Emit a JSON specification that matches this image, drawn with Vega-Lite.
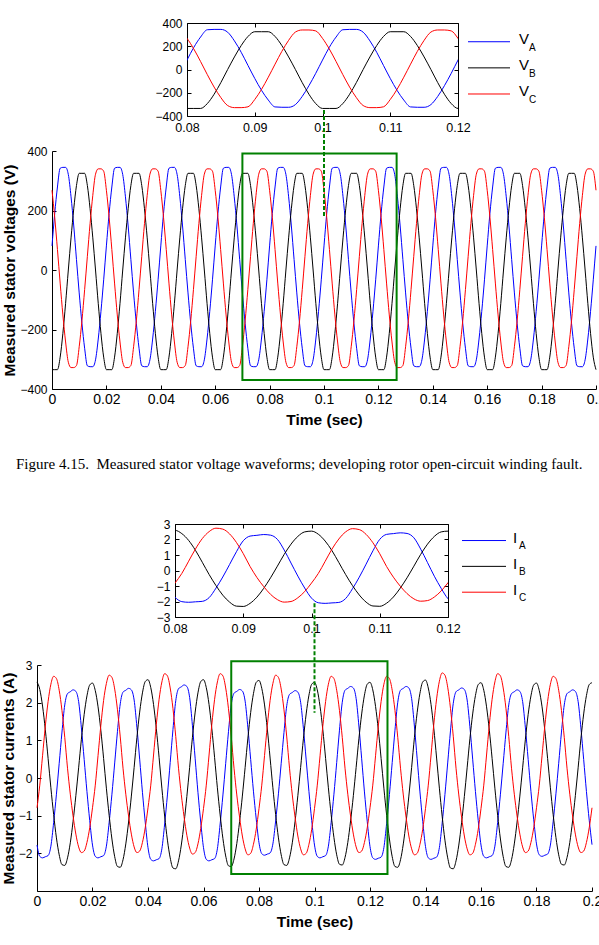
{
  "$schema": "https://vega.github.io/schema/vega-lite/v6.json",
  "background": "white",
  "padding": {"left": 1, "top": 16, "right": 0, "bottom": 0},
  "bounds": "flush",
  "spacing": 0,
  "config": {
    "view": {"stroke": null},
    "font": "Liberation Sans",
    "axis": {
      "grid": false,
      "domainColor": "#000",
      "domainWidth": 1,
      "tickColor": "#000",
      "tickWidth": 1,
      "tickSize": -4,
      "labelColor": "#000",
      "labelFont": "Liberation Sans",
      "labelFontSize": 12,
      "labelFlush": false,
      "labelOverlap": false,
      "labelBound": false,
      "titleFont": "Liberation Sans",
      "titleFontWeight": "bold",
      "titleColor": "#000",
      "titleFontSize": 15.5,
      "titlePadding": 2
    },
    "axisX": {"labelPadding": 7},
    "axisY": {"labelPadding": 9},
    "line": {"strokeWidth": 1, "interpolate": "monotone"}
  },
  "datasets": {
    "wave": [
      {"t":0,"va":81,"vb":-335,"vc":268,"ia":-1.78,"ib":2.55,"ic":-0.79},
      {"t":0.001,"va":190,"vb":-335,"vc":177,"ia":-2.08,"ib":2.35,"ic":-0.19},
      {"t":0.002,"va":279,"vb":-335,"vc":69,"ia":-2.12,"ib":1.91,"ic":0.59},
      {"t":0.003,"va":342,"vb":-293,"vc":-44,"ia":-2.09,"ib":1.28,"ic":1.38},
      {"t":0.004,"va":345,"vb":-213,"vc":-151,"ia":-2.06,"ib":0.52,"ic":2.03},
      {"t":0.005,"va":345,"vb":-112,"vc":-242,"ia":-1.81,"ib":-0.26,"ic":2.49},
      {"t":0.006,"va":321,"vb":0,"vc":-310,"ia":-1.18,"ib":-0.97,"ic":2.70},
      {"t":0.007,"va":246,"vb":108,"vc":-328,"ia":-0.43,"ib":-1.59,"ic":2.64},
      {"t":0.008,"va":148,"vb":206,"vc":-328,"ia":0.39,"ib":-2.04,"ic":2.33},
      {"t":0.009,"va":35,"vb":284,"vc":-321,"ia":1.22,"ib":-2.30,"ic":1.79},
      {"t":0.010,"va":-77,"vb":325,"vc":-258,"ia":1.94,"ib":-2.32,"ic":1.08},
      {"t":0.011,"va":-179,"vb":325,"vc":-171,"ia":2.24,"ib":-2.12,"ic":0.26},
      {"t":0.012,"va":-263,"vb":325,"vc":-66,"ia":2.29,"ib":-1.72,"ic":-0.43},
      {"t":0.013,"va":-322,"vb":284,"vc":46,"ia":2.34,"ib":-1.15,"ic":-1.01},
      {"t":0.014,"va":-325,"vb":206,"vc":156,"ia":2.30,"ib":-0.47,"ic":-1.49},
      {"t":0.015,"va":-325,"vb":108,"vc":251,"ia":2.03,"ib":0.27,"ic":-1.83},
      {"t":0.016,"va":-302,"vb":0,"vc":322,"ia":1.33,"ib":1.03,"ic":-1.98},
      {"t":0.017,"va":-232,"vb":-112,"vc":340,"ia":0.49,"ib":1.69,"ic":-1.94},
      {"t":0.018,"va":-139,"vb":-213,"vc":340,"ia":-0.36,"ib":2.18,"ic":-1.71},
      {"t":0.019,"va":-33,"vb":-293,"vc":332,"ia":-1.13,"ib":2.47,"ic":-1.32},
      {"t":0.020,"va":81,"vb":-335,"vc":268,"ia":-1.78,"ib":2.52,"ic":-0.79},
      {"t":0.021,"va":190,"vb":-335,"vc":177,"ia":-2.08,"ib":2.32,"ic":-0.19},
      {"t":0.022,"va":279,"vb":-335,"vc":69,"ia":-2.12,"ib":1.89,"ic":0.60},
      {"t":0.023,"va":342,"vb":-293,"vc":-44,"ia":-2.09,"ib":1.27,"ic":1.39},
      {"t":0.024,"va":345,"vb":-213,"vc":-151,"ia":-2.06,"ib":0.52,"ic":2.06},
      {"t":0.025,"va":345,"vb":-112,"vc":-242,"ia":-1.81,"ib":-0.27,"ic":2.51},
      {"t":0.026,"va":321,"vb":0,"vc":-310,"ia":-1.18,"ib":-0.99,"ic":2.73},
      {"t":0.027,"va":246,"vb":108,"vc":-328,"ia":-0.43,"ib":-1.62,"ic":2.67},
      {"t":0.028,"va":148,"vb":206,"vc":-328,"ia":0.40,"ib":-2.09,"ic":2.36},
      {"t":0.029,"va":35,"vb":284,"vc":-321,"ia":1.24,"ib":-2.35,"ic":1.81},
      {"t":0.030,"va":-77,"vb":325,"vc":-258,"ia":1.97,"ib":-2.37,"ic":1.09},
      {"t":0.031,"va":-179,"vb":325,"vc":-171,"ia":2.28,"ib":-2.17,"ic":0.26},
      {"t":0.032,"va":-263,"vb":325,"vc":-66,"ia":2.33,"ib":-1.75,"ic":-0.43},
      {"t":0.033,"va":-322,"vb":284,"vc":46,"ia":2.38,"ib":-1.17,"ic":-1.01},
      {"t":0.034,"va":-325,"vb":206,"vc":156,"ia":2.34,"ib":-0.48,"ic":-1.49},
      {"t":0.035,"va":-325,"vb":108,"vc":251,"ia":2.07,"ib":0.28,"ic":-1.83},
      {"t":0.036,"va":-302,"vb":0,"vc":322,"ia":1.35,"ib":1.07,"ic":-1.98},
      {"t":0.037,"va":-232,"vb":-112,"vc":340,"ia":0.50,"ib":1.75,"ic":-1.94},
      {"t":0.038,"va":-139,"vb":-213,"vc":340,"ia":-0.38,"ib":2.26,"ic":-1.71},
      {"t":0.039,"va":-33,"vb":-293,"vc":332,"ia":-1.17,"ib":2.56,"ic":-1.32},
      {"t":0.040,"va":81,"vb":-335,"vc":268,"ia":-1.85,"ib":2.61,"ic":-0.79},
      {"t":0.041,"va":190,"vb":-335,"vc":177,"ia":-2.16,"ib":2.40,"ic":-0.19},
      {"t":0.042,"va":279,"vb":-335,"vc":69,"ia":-2.20,"ib":1.95,"ic":0.61},
      {"t":0.043,"va":342,"vb":-293,"vc":-44,"ia":-2.17,"ib":1.31,"ic":1.42},
      {"t":0.044,"va":345,"vb":-213,"vc":-151,"ia":-2.14,"ib":0.54,"ic":2.09},
      {"t":0.045,"va":345,"vb":-112,"vc":-242,"ia":-1.88,"ib":-0.27,"ic":2.55},
      {"t":0.046,"va":321,"vb":0,"vc":-310,"ia":-1.22,"ib":-1.01,"ic":2.77},
      {"t":0.047,"va":246,"vb":108,"vc":-328,"ia":-0.45,"ib":-1.65,"ic":2.71},
      {"t":0.048,"va":148,"vb":206,"vc":-328,"ia":0.41,"ib":-2.12,"ic":2.39},
      {"t":0.049,"va":35,"vb":284,"vc":-321,"ia":1.29,"ib":-2.39,"ic":1.84},
      {"t":0.050,"va":-77,"vb":325,"vc":-258,"ia":2.05,"ib":-2.41,"ic":1.10},
      {"t":0.051,"va":-179,"vb":325,"vc":-171,"ia":2.37,"ib":-2.20,"ic":0.26},
      {"t":0.052,"va":-263,"vb":325,"vc":-66,"ia":2.42,"ib":-1.78,"ic":-0.44},
      {"t":0.053,"va":-322,"vb":284,"vc":46,"ia":2.47,"ib":-1.19,"ic":-1.03},
      {"t":0.054,"va":-325,"vb":206,"vc":156,"ia":2.43,"ib":-0.49,"ic":-1.52},
      {"t":0.055,"va":-325,"vb":108,"vc":251,"ia":2.14,"ib":0.28,"ic":-1.86},
      {"t":0.056,"va":-302,"vb":0,"vc":322,"ia":1.40,"ib":1.07,"ic":-2.02},
      {"t":0.057,"va":-232,"vb":-112,"vc":340,"ia":0.51,"ib":1.75,"ic":-1.98},
      {"t":0.058,"va":-139,"vb":-213,"vc":340,"ia":-0.38,"ib":2.26,"ic":-1.75},
      {"t":0.059,"va":-33,"vb":-293,"vc":332,"ia":-1.17,"ib":2.56,"ic":-1.34},
      {"t":0.060,"va":81,"vb":-335,"vc":268,"ia":-1.85,"ib":2.61,"ic":-0.81},
      {"t":0.061,"va":190,"vb":-335,"vc":177,"ia":-2.16,"ib":2.40,"ic":-0.19},
      {"t":0.062,"va":279,"vb":-335,"vc":69,"ia":-2.20,"ib":1.95,"ic":0.61},
      {"t":0.063,"va":342,"vb":-293,"vc":-44,"ia":-2.17,"ib":1.31,"ic":1.42},
      {"t":0.064,"va":345,"vb":-213,"vc":-151,"ia":-2.14,"ib":0.54,"ic":2.09},
      {"t":0.065,"va":345,"vb":-112,"vc":-242,"ia":-1.88,"ib":-0.26,"ic":2.55},
      {"t":0.066,"va":321,"vb":0,"vc":-310,"ia":-1.22,"ib":-0.98,"ic":2.77},
      {"t":0.067,"va":246,"vb":108,"vc":-328,"ia":-0.45,"ib":-1.61,"ic":2.71},
      {"t":0.068,"va":148,"vb":206,"vc":-328,"ia":0.39,"ib":-2.07,"ic":2.39},
      {"t":0.069,"va":35,"vb":284,"vc":-321,"ia":1.23,"ib":-2.33,"ic":1.84},
      {"t":0.070,"va":-77,"vb":325,"vc":-258,"ia":1.95,"ib":-2.35,"ic":1.10},
      {"t":0.071,"va":-179,"vb":325,"vc":-171,"ia":2.25,"ib":-2.15,"ic":0.26},
      {"t":0.072,"va":-263,"vb":325,"vc":-66,"ia":2.30,"ib":-1.74,"ic":-0.45},
      {"t":0.073,"va":-322,"vb":284,"vc":46,"ia":2.35,"ib":-1.16,"ic":-1.04},
      {"t":0.074,"va":-325,"vb":206,"vc":156,"ia":2.31,"ib":-0.48,"ic":-1.54},
      {"t":0.075,"va":-325,"vb":108,"vc":251,"ia":2.04,"ib":0.28,"ic":-1.88},
      {"t":0.076,"va":-302,"vb":0,"vc":322,"ia":1.33,"ib":1.06,"ic":-2.04},
      {"t":0.077,"va":-232,"vb":-112,"vc":340,"ia":0.49,"ib":1.74,"ic":-2.00},
      {"t":0.078,"va":-139,"vb":-213,"vc":340,"ia":-0.35,"ib":2.24,"ic":-1.76},
      {"t":0.079,"va":-33,"vb":-293,"vc":332,"ia":-1.09,"ib":2.54,"ic":-1.36},
      {"t":0.080,"va":81,"vb":-335,"vc":268,"ia":-1.72,"ib":2.59,"ic":-0.81},
      {"t":0.081,"va":190,"vb":-335,"vc":177,"ia":-2.01,"ib":2.38,"ic":-0.19},
      {"t":0.082,"va":279,"vb":-335,"vc":69,"ia":-2.05,"ib":1.94,"ic":0.60},
      {"t":0.083,"va":342,"vb":-293,"vc":-44,"ia":-2.02,"ib":1.30,"ic":1.39},
      {"t":0.084,"va":345,"vb":-213,"vc":-151,"ia":-1.99,"ib":0.53,"ic":2.06},
      {"t":0.085,"va":345,"vb":-112,"vc":-242,"ia":-1.75,"ib":-0.26,"ic":2.51},
      {"t":0.086,"va":321,"vb":0,"vc":-310,"ia":-1.14,"ib":-0.97,"ic":2.73},
      {"t":0.087,"va":246,"vb":108,"vc":-328,"ia":-0.42,"ib":-1.59,"ic":2.67},
      {"t":0.088,"va":148,"vb":206,"vc":-328,"ia":0.39,"ib":-2.04,"ic":2.36},
      {"t":0.089,"va":35,"vb":284,"vc":-321,"ia":1.21,"ib":-2.30,"ic":1.81},
      {"t":0.090,"va":-77,"vb":325,"vc":-258,"ia":1.92,"ib":-2.32,"ic":1.09},
      {"t":0.091,"va":-179,"vb":325,"vc":-171,"ia":2.22,"ib":-2.12,"ic":0.26},
      {"t":0.092,"va":-263,"vb":325,"vc":-66,"ia":2.27,"ib":-1.72,"ic":-0.45},
      {"t":0.093,"va":-322,"vb":284,"vc":46,"ia":2.32,"ib":-1.15,"ic":-1.04},
      {"t":0.094,"va":-325,"vb":206,"vc":156,"ia":2.28,"ib":-0.47,"ic":-1.54},
      {"t":0.095,"va":-325,"vb":108,"vc":251,"ia":2.01,"ib":0.28,"ic":-1.88},
      {"t":0.096,"va":-302,"vb":0,"vc":322,"ia":1.32,"ib":1.04,"ic":-2.04},
      {"t":0.097,"va":-232,"vb":-112,"vc":340,"ia":0.48,"ib":1.70,"ic":-2.00},
      {"t":0.098,"va":-139,"vb":-213,"vc":340,"ia":-0.36,"ib":2.20,"ic":-1.76},
      {"t":0.099,"va":-33,"vb":-293,"vc":332,"ia":-1.13,"ib":2.49,"ic":-1.36},
      {"t":0.100,"va":81,"vb":-335,"vc":268,"ia":-1.78,"ib":2.54,"ic":-0.81},
      {"t":0.101,"va":190,"vb":-335,"vc":177,"ia":-2.08,"ib":2.34,"ic":-0.19},
      {"t":0.102,"va":279,"vb":-335,"vc":69,"ia":-2.12,"ib":1.90,"ic":0.59},
      {"t":0.103,"va":342,"vb":-293,"vc":-44,"ia":-2.09,"ib":1.28,"ic":1.38},
      {"t":0.104,"va":345,"vb":-213,"vc":-151,"ia":-2.06,"ib":0.52,"ic":2.03},
      {"t":0.105,"va":345,"vb":-112,"vc":-242,"ia":-1.81,"ib":-0.26,"ic":2.49},
      {"t":0.106,"va":321,"vb":0,"vc":-310,"ia":-1.18,"ib":-0.97,"ic":2.70},
      {"t":0.107,"va":246,"vb":108,"vc":-328,"ia":-0.43,"ib":-1.58,"ic":2.64},
      {"t":0.108,"va":148,"vb":206,"vc":-328,"ia":0.41,"ib":-2.04,"ic":2.33},
      {"t":0.109,"va":35,"vb":284,"vc":-321,"ia":1.27,"ib":-2.29,"ic":1.79},
      {"t":0.110,"va":-77,"vb":325,"vc":-258,"ia":2.01,"ib":-2.31,"ic":1.08},
      {"t":0.111,"va":-179,"vb":325,"vc":-171,"ia":2.33,"ib":-2.11,"ic":0.26},
      {"t":0.112,"va":-263,"vb":325,"vc":-66,"ia":2.38,"ib":-1.71,"ic":-0.43},
      {"t":0.113,"va":-322,"vb":284,"vc":46,"ia":2.43,"ib":-1.14,"ic":-1.01},
      {"t":0.114,"va":-325,"vb":206,"vc":156,"ia":2.39,"ib":-0.47,"ic":-1.49},
      {"t":0.115,"va":-325,"vb":108,"vc":251,"ia":2.11,"ib":0.28,"ic":-1.83},
      {"t":0.116,"va":-302,"vb":0,"vc":322,"ia":1.38,"ib":1.04,"ic":-1.98},
      {"t":0.117,"va":-232,"vb":-112,"vc":340,"ia":0.51,"ib":1.70,"ic":-1.94},
      {"t":0.118,"va":-139,"vb":-213,"vc":340,"ia":-0.37,"ib":2.20,"ic":-1.71},
      {"t":0.119,"va":-33,"vb":-293,"vc":332,"ia":-1.15,"ib":2.49,"ic":-1.32},
      {"t":0.120,"va":81,"vb":-335,"vc":268,"ia":-1.82,"ib":2.54,"ic":-0.79},
      {"t":0.121,"va":190,"vb":-335,"vc":177,"ia":-2.12,"ib":2.34,"ic":-0.19},
      {"t":0.122,"va":279,"vb":-335,"vc":69,"ia":-2.16,"ib":1.90,"ic":0.59},
      {"t":0.123,"va":342,"vb":-293,"vc":-44,"ia":-2.13,"ib":1.28,"ic":1.38},
      {"t":0.124,"va":345,"vb":-213,"vc":-151,"ia":-2.10,"ib":0.52,"ic":2.03},
      {"t":0.125,"va":345,"vb":-112,"vc":-242,"ia":-1.85,"ib":-0.27,"ic":2.49},
      {"t":0.126,"va":321,"vb":0,"vc":-310,"ia":-1.20,"ib":-0.99,"ic":2.70},
      {"t":0.127,"va":246,"vb":108,"vc":-328,"ia":-0.44,"ib":-1.62,"ic":2.64},
      {"t":0.128,"va":148,"vb":206,"vc":-328,"ia":0.41,"ib":-2.09,"ic":2.33},
      {"t":0.129,"va":35,"vb":284,"vc":-321,"ia":1.27,"ib":-2.35,"ic":1.79},
      {"t":0.130,"va":-77,"vb":325,"vc":-258,"ia":2.01,"ib":-2.37,"ic":1.08},
      {"t":0.131,"va":-179,"vb":325,"vc":-171,"ia":2.33,"ib":-2.17,"ic":0.26},
      {"t":0.132,"va":-263,"vb":325,"vc":-66,"ia":2.38,"ib":-1.75,"ic":-0.45},
      {"t":0.133,"va":-322,"vb":284,"vc":46,"ia":2.43,"ib":-1.17,"ic":-1.04},
      {"t":0.134,"va":-325,"vb":206,"vc":156,"ia":2.39,"ib":-0.48,"ic":-1.54},
      {"t":0.135,"va":-325,"vb":108,"vc":251,"ia":2.11,"ib":0.28,"ic":-1.88},
      {"t":0.136,"va":-302,"vb":0,"vc":322,"ia":1.38,"ib":1.07,"ic":-2.04},
      {"t":0.137,"va":-232,"vb":-112,"vc":340,"ia":0.51,"ib":1.74,"ic":-2.00},
      {"t":0.138,"va":-139,"vb":-213,"vc":340,"ia":-0.37,"ib":2.25,"ic":-1.76},
      {"t":0.139,"va":-33,"vb":-293,"vc":332,"ia":-1.15,"ib":2.55,"ic":-1.36},
      {"t":0.140,"va":81,"vb":-335,"vc":268,"ia":-1.82,"ib":2.60,"ic":-0.81},
      {"t":0.141,"va":190,"vb":-335,"vc":177,"ia":-2.12,"ib":2.39,"ic":-0.19},
      {"t":0.142,"va":279,"vb":-335,"vc":69,"ia":-2.16,"ib":1.95,"ic":0.61},
      {"t":0.143,"va":342,"vb":-293,"vc":-44,"ia":-2.13,"ib":1.31,"ic":1.43},
      {"t":0.144,"va":345,"vb":-213,"vc":-151,"ia":-2.10,"ib":0.53,"ic":2.10},
      {"t":0.145,"va":345,"vb":-112,"vc":-242,"ia":-1.85,"ib":-0.27,"ic":2.57},
      {"t":0.146,"va":321,"vb":0,"vc":-310,"ia":-1.20,"ib":-1.01,"ic":2.79},
      {"t":0.147,"va":246,"vb":108,"vc":-328,"ia":-0.44,"ib":-1.65,"ic":2.73},
      {"t":0.148,"va":148,"vb":206,"vc":-328,"ia":0.40,"ib":-2.12,"ic":2.41},
      {"t":0.149,"va":35,"vb":284,"vc":-321,"ia":1.25,"ib":-2.39,"ic":1.85},
      {"t":0.150,"va":-77,"vb":325,"vc":-258,"ia":1.98,"ib":-2.41,"ic":1.11},
      {"t":0.151,"va":-179,"vb":325,"vc":-171,"ia":2.29,"ib":-2.20,"ic":0.26},
      {"t":0.152,"va":-263,"vb":325,"vc":-66,"ia":2.34,"ib":-1.78,"ic":-0.45},
      {"t":0.153,"va":-322,"vb":284,"vc":46,"ia":2.39,"ib":-1.19,"ic":-1.04},
      {"t":0.154,"va":-325,"vb":206,"vc":156,"ia":2.35,"ib":-0.49,"ic":-1.54},
      {"t":0.155,"va":-325,"vb":108,"vc":251,"ia":2.07,"ib":0.27,"ic":-1.88},
      {"t":0.156,"va":-302,"vb":0,"vc":322,"ia":1.36,"ib":1.04,"ic":-2.04},
      {"t":0.157,"va":-232,"vb":-112,"vc":340,"ia":0.50,"ib":1.70,"ic":-2.00},
      {"t":0.158,"va":-139,"vb":-213,"vc":340,"ia":-0.36,"ib":2.19,"ic":-1.76},
      {"t":0.159,"va":-33,"vb":-293,"vc":332,"ia":-1.13,"ib":2.48,"ic":-1.36},
      {"t":0.160,"va":81,"vb":-335,"vc":268,"ia":-1.78,"ib":2.53,"ic":-0.81},
      {"t":0.161,"va":190,"vb":-335,"vc":177,"ia":-2.08,"ib":2.33,"ic":-0.19},
      {"t":0.162,"va":279,"vb":-335,"vc":69,"ia":-2.12,"ib":1.89,"ic":0.61},
      {"t":0.163,"va":342,"vb":-293,"vc":-44,"ia":-2.09,"ib":1.27,"ic":1.42},
      {"t":0.164,"va":345,"vb":-213,"vc":-151,"ia":-2.06,"ib":0.52,"ic":2.09},
      {"t":0.165,"va":345,"vb":-112,"vc":-242,"ia":-1.81,"ib":-0.27,"ic":2.55},
      {"t":0.166,"va":321,"vb":0,"vc":-310,"ia":-1.18,"ib":-0.99,"ic":2.77},
      {"t":0.167,"va":246,"vb":108,"vc":-328,"ia":-0.43,"ib":-1.62,"ic":2.71},
      {"t":0.168,"va":148,"vb":206,"vc":-328,"ia":0.39,"ib":-2.09,"ic":2.39},
      {"t":0.169,"va":35,"vb":284,"vc":-321,"ia":1.22,"ib":-2.35,"ic":1.84},
      {"t":0.170,"va":-77,"vb":325,"vc":-258,"ia":1.94,"ib":-2.37,"ic":1.10},
      {"t":0.171,"va":-179,"vb":325,"vc":-171,"ia":2.24,"ib":-2.17,"ic":0.26},
      {"t":0.172,"va":-263,"vb":325,"vc":-66,"ia":2.29,"ib":-1.75,"ic":-0.43},
      {"t":0.173,"va":-322,"vb":284,"vc":46,"ia":2.34,"ib":-1.17,"ic":-1.01},
      {"t":0.174,"va":-325,"vb":206,"vc":156,"ia":2.30,"ib":-0.48,"ic":-1.49},
      {"t":0.175,"va":-325,"vb":108,"vc":251,"ia":2.03,"ib":0.27,"ic":-1.83},
      {"t":0.176,"va":-302,"vb":0,"vc":322,"ia":1.33,"ib":1.03,"ic":-1.98},
      {"t":0.177,"va":-232,"vb":-112,"vc":340,"ia":0.49,"ib":1.69,"ic":-1.94},
      {"t":0.178,"va":-139,"vb":-213,"vc":340,"ia":-0.36,"ib":2.18,"ic":-1.71},
      {"t":0.179,"va":-33,"vb":-293,"vc":332,"ia":-1.11,"ib":2.47,"ic":-1.32},
      {"t":0.180,"va":81,"vb":-335,"vc":268,"ia":-1.75,"ib":2.52,"ic":-0.79},
      {"t":0.181,"va":190,"vb":-335,"vc":177,"ia":-2.04,"ib":2.32,"ic":-0.19},
      {"t":0.182,"va":279,"vb":-335,"vc":69,"ia":-2.08,"ib":1.89,"ic":0.59},
      {"t":0.183,"va":342,"vb":-293,"vc":-44,"ia":-2.05,"ib":1.27,"ic":1.38},
      {"t":0.184,"va":345,"vb":-213,"vc":-151,"ia":-2.02,"ib":0.52,"ic":2.03},
      {"t":0.185,"va":345,"vb":-112,"vc":-242,"ia":-1.78,"ib":-0.26,"ic":2.49},
      {"t":0.186,"va":321,"vb":0,"vc":-310,"ia":-1.16,"ib":-0.97,"ic":2.70},
      {"t":0.187,"va":246,"vb":108,"vc":-328,"ia":-0.42,"ib":-1.58,"ic":2.64},
      {"t":0.188,"va":148,"vb":206,"vc":-328,"ia":0.39,"ib":-2.04,"ic":2.33},
      {"t":0.189,"va":35,"vb":284,"vc":-321,"ia":1.22,"ib":-2.29,"ic":1.79},
      {"t":0.190,"va":-77,"vb":325,"vc":-258,"ia":1.94,"ib":-2.31,"ic":1.08},
      {"t":0.191,"va":-179,"vb":325,"vc":-171,"ia":2.24,"ib":-2.11,"ic":0.26},
      {"t":0.192,"va":-263,"vb":325,"vc":-66,"ia":2.29,"ib":-1.71,"ic":-0.43},
      {"t":0.193,"va":-322,"vb":284,"vc":46,"ia":2.34,"ib":-1.14,"ic":-1.01},
      {"t":0.194,"va":-325,"vb":206,"vc":156,"ia":2.30,"ib":-0.47,"ic":-1.49},
      {"t":0.195,"va":-325,"vb":108,"vc":251,"ia":2.03,"ib":0.27,"ic":-1.83},
      {"t":0.196,"va":-302,"vb":0,"vc":322,"ia":1.33,"ib":1.04,"ic":-1.98},
      {"t":0.197,"va":-232,"vb":-112,"vc":340,"ia":0.49,"ib":1.70,"ic":-1.94},
      {"t":0.198,"va":-139,"vb":-213,"vc":340,"ia":-0.36,"ib":2.19,"ic":-1.71},
      {"t":0.199,"va":-33,"vb":-293,"vc":332,"ia":-1.12,"ib":2.48,"ic":-1.32},
      {"t":0.200,"va":81,"vb":-335,"vc":268,"ia":-1.77,"ib":2.53,"ic":-0.79}
    ],
    "vKeys": [
      {"s":"va","name":"V","sub":"A"},
      {"s":"vb","name":"V","sub":"B"},
      {"s":"vc","name":"V","sub":"C"}
    ],
    "iKeys": [
      {"s":"ia","name":"I","sub":"A"},
      {"s":"ib","name":"I","sub":"B"},
      {"s":"ic","name":"I","sub":"C"}
    ],
    "vBox": [{"t":0.07,"t2":0.1267,"v":-370,"v2":392}],
    "vLink": [{"t":0.1,"v":538,"v2":178}],
    "iBox": [{"t":0.07,"t2":0.1263,"i":-2.55,"i2":3.1}],
    "iLink": [{"t":0.1,"i":4.64,"i2":1.73}]
  },
  "vconcat": [
    {
      "bounds": "flush",
      "spacing": 10,
      "hconcat": [
        {"width": 140, "height": 1, "data": {"values": []}, "mark": "point", "encoding": {}},
        {
          "width": 271,
          "height": 93,
          "view": {"stroke": "#000", "strokeWidth": 1},
          "data": {"name": "wave"},
          "transform": [{"fold": ["va", "vb", "vc"], "as": ["ph", "v"]}],
          "layer": [
            {
              "mark": {"type": "line", "clip": true},
              "encoding": {
                "x": {"field": "t", "type": "quantitative", "scale": {"domain": [0.08, 0.12], "nice": false, "zero": false},
                      "axis": {"orient": "bottom", "values": [0.08, 0.09, 0.1, 0.11, 0.12], "format": "~g", "title": null, "domain": false, "labelFontSize": 12.5, "labelPadding": 9}},
                "y": {"field": "v", "type": "quantitative", "scale": {"domain": [-400, 400], "nice": false},
                      "axis": {"orient": "left", "values": [-400, -200, 0, 200, 400], "title": null, "domain": false, "labelPadding": 9}},
                "color": {"field": "ph", "type": "nominal", "scale": {"domain": ["va", "vb", "vc", "ia", "ib", "ic"], "range": ["#0000ff", "#000000", "#ff0000", "#0000ff", "#000000", "#ff0000"]}, "legend": null}
              }
            },
            {
              "transform": [{"filter": "datum.t == 0.1"}],
              "mark": {"type": "point", "opacity": 0},
              "encoding": {
                "x": {"field": "t", "type": "quantitative", "scale": {"domain": [0.08, 0.12], "nice": false, "zero": false},
                      "axis": {"orient": "top", "values": [0.08, 0.09, 0.1, 0.11, 0.12], "labels": false, "title": null, "domain": false}},
                "y": {"field": "v", "type": "quantitative", "scale": {"domain": [-400, 400], "nice": false},
                      "axis": {"orient": "right", "values": [-400, -200, 0, 200, 400], "labels": false, "title": null, "domain": false}}
              }
            }
          ],
          "resolve": {"axis": {"x": "independent", "y": "independent"}}
        },
        {
          "width": 42,
          "height": 93,
          "data": {"name": "vKeys"},
          "encoding": {
            "y": {"field": "s", "type": "nominal", "sort": null, "scale": {"type": "point", "padding": 0.78, "align": 0.46}, "axis": null}
          },
          "layer": [
            {"mark": {"type": "rule", "strokeWidth": 1},
             "encoding": {"color": {"field": "s", "type": "nominal", "scale": {"domain": ["va", "vb", "vc", "ia", "ib", "ic"], "range": ["#0000ff", "#000000", "#ff0000", "#0000ff", "#000000", "#ff0000"]}, "legend": null}}},
            {"mark": {"type": "text", "align": "left", "baseline": "alphabetic", "dx": 30, "dy": 2.5, "fontSize": 15, "color": "#000"},
             "encoding": {"text": {"field": "name"}}},
            {"mark": {"type": "text", "align": "left", "baseline": "alphabetic", "dx": 40, "dy": 9, "fontSize": 10, "color": "#000"},
             "encoding": {"text": {"field": "sub"}}}
          ]
        }
      ]
    },
    {"width": 1, "height": 128, "data": {"values": []}, "mark": "point", "encoding": {}},
    {
      "bounds": "flush",
      "spacing": 0,
      "hconcat": [
        {"width": 15, "height": 1, "data": {"values": []}, "mark": "point", "encoding": {}},
        {
          "width": 544,
          "height": 238,
          "title": {
            "text": "Figure 4.15.\u00a0 Measured stator voltage waveforms; developing rotor open-circuit winding fault.",
            "orient": "bottom", "anchor": "start", "frame": "group", "dx": -36, "offset": 29,
            "font": "Liberation Serif", "fontSize": 15, "fontWeight": "normal", "color": "#000"
          },
          "encoding": {
            "x": {"field": "t", "type": "quantitative", "scale": {"domain": [0, 0.2], "nice": false, "zero": false},
                  "axis": {"values": [0, 0.02, 0.04, 0.06, 0.08, 0.1, 0.12, 0.14, 0.16, 0.18, 0.2], "format": "~g", "title": "Time (sec)", "labelFontSize": 14, "labelPadding": 7, "titlePadding": 6}},
            "y": {"field": "v", "type": "quantitative", "scale": {"domain": [-400, 400], "nice": false},
                  "axis": {"values": [-400, -200, 0, 200, 400], "title": "Measured stator voltages (V)", "labelPadding": 9, "titlePadding": 2}}
          },
          "layer": [
            {
              "data": {"name": "wave"},
              "transform": [{"fold": ["va", "vb", "vc"], "as": ["ph", "v"]}],
              "mark": "line",
              "encoding": {
                "color": {"field": "ph", "type": "nominal", "scale": {"domain": ["va", "vb", "vc", "ia", "ib", "ic"], "range": ["#0000ff", "#000000", "#ff0000", "#0000ff", "#000000", "#ff0000"]}, "legend": null}
              }
            },
            {
              "data": {"name": "vBox"},
              "mark": {"type": "rect", "filled": false, "color": "#008000", "strokeWidth": 2},
              "encoding": {"x2": {"field": "t2"}, "y2": {"field": "v2"}}
            },
            {
              "data": {"name": "vLink"},
              "mark": {"type": "rule", "color": "#008000", "strokeWidth": 2, "strokeDash": [4, 2]},
              "encoding": {"y2": {"field": "v2"}}
            }
          ]
        }
      ]
    },
    {"width": 1, "height": 373, "data": {"values": []}, "mark": "point", "encoding": {}},
    {
      "bounds": "flush",
      "spacing": 14,
      "hconcat": [
        {"width": 124, "height": 1, "data": {"values": []}, "mark": "point", "encoding": {}},
        {
          "width": 273,
          "height": 93,
          "view": {"stroke": "#000", "strokeWidth": 1},
          "data": {"name": "wave"},
          "transform": [{"fold": ["ia", "ib", "ic"], "as": ["ph", "i"]}],
          "layer": [
            {
              "mark": {"type": "line", "clip": true},
              "encoding": {
                "x": {"field": "t", "type": "quantitative", "scale": {"domain": [0.08, 0.12], "nice": false, "zero": false},
                      "axis": {"orient": "bottom", "values": [0.08, 0.09, 0.1, 0.11, 0.12], "format": "~g", "title": null, "domain": false, "labelFontSize": 12.5, "labelPadding": 9}},
                "y": {"field": "i", "type": "quantitative", "scale": {"domain": [-3, 3], "nice": false},
                      "axis": {"orient": "left", "values": [-3, -2, -1, 0, 1, 2, 3], "title": null, "domain": false, "labelPadding": 9}},
                "color": {"field": "ph", "type": "nominal", "scale": {"domain": ["va", "vb", "vc", "ia", "ib", "ic"], "range": ["#0000ff", "#000000", "#ff0000", "#0000ff", "#000000", "#ff0000"]}, "legend": null}
              }
            },
            {
              "transform": [{"filter": "datum.t == 0.1"}],
              "mark": {"type": "point", "opacity": 0},
              "encoding": {
                "x": {"field": "t", "type": "quantitative", "scale": {"domain": [0.08, 0.12], "nice": false, "zero": false},
                      "axis": {"orient": "top", "values": [0.08, 0.09, 0.1, 0.11, 0.12], "labels": false, "title": null, "domain": false}},
                "y": {"field": "i", "type": "quantitative", "scale": {"domain": [-3, 3], "nice": false},
                      "axis": {"orient": "right", "values": [-3, -2, -1, 0, 1, 2, 3], "labels": false, "title": null, "domain": false}}
              }
            }
          ],
          "resolve": {"axis": {"x": "independent", "y": "independent"}}
        },
        {
          "width": 44,
          "height": 93,
          "data": {"name": "iKeys"},
          "encoding": {
            "y": {"field": "s", "type": "nominal", "sort": null, "scale": {"type": "point", "padding": 0.8, "align": 0.4}, "axis": null}
          },
          "layer": [
            {"mark": {"type": "rule", "strokeWidth": 1},
             "encoding": {"color": {"field": "s", "type": "nominal", "scale": {"domain": ["va", "vb", "vc", "ia", "ib", "ic"], "range": ["#0000ff", "#000000", "#ff0000", "#0000ff", "#000000", "#ff0000"]}, "legend": null}}},
            {"mark": {"type": "text", "align": "left", "baseline": "alphabetic", "dx": 29, "dy": 2.5, "fontSize": 15, "color": "#000"},
             "encoding": {"text": {"field": "name"}}},
            {"mark": {"type": "text", "align": "left", "baseline": "alphabetic", "dx": 35, "dy": 8.5, "fontSize": 10, "color": "#000"},
             "encoding": {"text": {"field": "sub"}}}
          ]
        }
      ]
    },
    {"width": 1, "height": 141, "data": {"values": []}, "mark": "point", "encoding": {}},
    {
      "width": 555,
      "height": 226,
      "encoding": {
        "x": {"field": "t", "type": "quantitative", "scale": {"domain": [0, 0.2], "nice": false, "zero": false},
              "axis": {"values": [0, 0.02, 0.04, 0.06, 0.08, 0.1, 0.12, 0.14, 0.16, 0.18, 0.2], "format": "~g", "title": "Time (sec)", "labelFontSize": 14, "labelPadding": 7, "titlePadding": 6}},
        "y": {"field": "i", "type": "quantitative", "scale": {"domain": [-3, 3], "nice": false},
              "axis": {"values": [-2, -1, 0, 1, 2, 3], "title": "Measured stator currents (A)", "labelPadding": 9, "titlePadding": 2}}
      },
      "layer": [
        {
          "data": {"name": "wave"},
          "transform": [{"fold": ["ia", "ib", "ic"], "as": ["ph", "i"]}],
          "mark": "line",
          "encoding": {
            "color": {"field": "ph", "type": "nominal", "scale": {"domain": ["va", "vb", "vc", "ia", "ib", "ic"], "range": ["#0000ff", "#000000", "#ff0000", "#0000ff", "#000000", "#ff0000"]}, "legend": null}
          }
        },
        {
          "data": {"name": "iBox"},
          "mark": {"type": "rect", "filled": false, "color": "#008000", "strokeWidth": 2},
          "encoding": {"x2": {"field": "t2"}, "y2": {"field": "i2"}}
        },
        {
          "data": {"name": "iLink"},
          "mark": {"type": "rule", "color": "#008000", "strokeWidth": 2, "strokeDash": [4, 2]},
          "encoding": {"y2": {"field": "i2"}}
        }
      ]
    }
  ]
}
